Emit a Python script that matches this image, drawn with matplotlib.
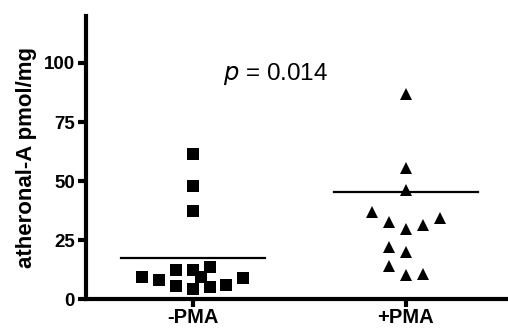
import matplotlib
matplotlib.use('Agg')
import matplotlib.pyplot as plt

plt.rcParams['font.family'] = ['Liberation Sans', 'DejaVu Sans']

# group labels
groups = ['-PMA', '+PMA']

# -PMA values (squares) and their horizontal slot in the scatter
minus_vals = [61.3, 48.0, 37.2, 9.4, 8.0, 12.3, 5.5, 12.3, 4.5, 13.7, 5.2, 9.4, 5.9, 8.8]
minus_slot = [0, 0, 0, -3, -2, -1, -1, 0, 0, 1, 1, 0.5, 2, 3]
minus_line = 17.4

# +PMA values (triangles)
plus_vals = [86.7, 55.4, 46.2, 37.0, 32.8, 29.7, 31.4, 34.2, 21.9, 19.8, 14.1, 10.2, 10.6]
plus_slot = [0, 0, 0, -2, -1, 0, 1, 2, -1, 0, -1, 0, 1]
plus_line = 45.5

yticks = [0, 25, 50, 75, 100]
p_text = '0.014'

slot_w = 0.079
line_half = 0.338

fig = plt.figure(figsize=(5.08, 3.28), dpi=100)
ax = fig.add_axes([0.169, 0.088, 0.831, 0.864])

ax.plot([0 + s * slot_w for s in minus_slot], minus_vals, 's', color='black',
        markersize=8.3, markeredgewidth=0, clip_on=False)
ax.plot([1 + s * slot_w for s in plus_slot], plus_vals, '^', color='black',
        markersize=9, markeredgewidth=0, clip_on=False)

ax.plot([-line_half, line_half], [minus_line, minus_line], color='black', lw=1.6)
ax.plot([1 - line_half, 1 + line_half], [plus_line, plus_line], color='black', lw=1.6)

ax.text(0.39, 95.5, r'$\it{p}$ = ' + p_text, ha='center', va='center', fontsize=17.5)

ax.set_xlim(-0.502, 1.479)
ax.set_ylim(0, 120)
ax.set_yticks(yticks)
ax.set_xticks([0, 1])
ax.set_xticklabels(groups, fontweight='bold', fontsize=14.5)
for lab in ax.get_yticklabels():
    lab.set_fontweight('bold')
    lab.set_fontsize(13.5)
ax.set_ylabel('atheronal-A pmol/mg', fontweight='bold', fontsize=16, labelpad=5)

ax.spines['top'].set_visible(False)
ax.spines['right'].set_visible(False)
ax.spines['left'].set_linewidth(3)
ax.spines['bottom'].set_linewidth(3)
ax.tick_params(axis='y', width=3, length=5.5, pad=2.5)
ax.tick_params(axis='x', width=3, length=5.5, pad=1)

fig.savefig('out.png', dpi=100)
